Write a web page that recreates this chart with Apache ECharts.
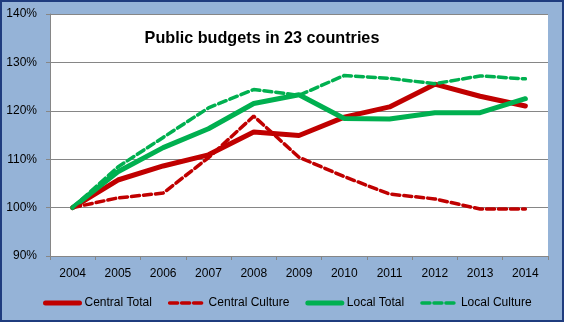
<!DOCTYPE html>
<html><head><meta charset="utf-8">
<script src="https://cdn.jsdelivr.net/npm/echarts@6/dist/echarts.min.js"></script>
<style>html,body{margin:0;padding:0;background:#95B3D7;}#c{width:564px;height:322px;}</style>
</head><body><div id="c"></div>
<script>
const years = ['2004','2005','2006','2007','2008','2009','2010','2011','2012','2013','2014'];
const centralTotal   = [100, 105.7, 108.6, 110.9, 115.6, 114.9, 118.7, 120.8, 125.5, 123.0, 121.0];
const centralCulture = [100, 102.0, 103.0, 110.3, 118.9, 110.4, 106.4, 102.8, 101.8, 99.7, 99.7];
const localTotal     = [100, 107.4, 112.4, 116.3, 121.5, 123.3, 118.4, 118.3, 119.6, 119.6, 122.5];
const localCulture   = [100, 108.4, 114.5, 120.6, 124.4, 123.2, 127.3, 126.7, 125.6, 127.2, 126.6];
const yTicks = [90, 100, 110, 120, 130, 140];
const seriesNames = ['Central Total', 'Central Culture', 'Local Total', 'Local Culture'];
const titleText = 'Public budgets in 23 countries';

const RED = '#C00000', GREEN = '#00B050';
const font = '"Liberation Sans", Arial, sans-serif';
const chart = echarts.init(document.getElementById('c'), null, {renderer: 'canvas'});
const dash = [8, 4];
function mk(name, data, color, dashed, width) {
  return {
    name: name, type: 'line', data: data, symbol: 'none', smooth: false,
    lineStyle: {color: color, width: width, type: dashed ? dash : 'solid', cap: 'round'},
    itemStyle: {color: color}, z: dashed ? 3 : 2
  };
}
const styles = [
  {c: RED, d: false, w: 5}, {c: RED, d: true, w: 3.5},
  {c: GREEN, d: false, w: 5}, {c: GREEN, d: true, w: 3.5}
];
chart.setOption({
  backgroundColor: '#95B3D7',
  animation: false,
  title: {
    text: titleText, left: 257, top: 26, textAlign: 'center',
    textStyle: {fontFamily: font, fontWeight: 'bold', fontSize: 16.2, color: '#000'}
  },
  grid: {left: 50, right: 16, top: 14, bottom: 66, show: true, backgroundColor: '#FFFFFF', borderWidth: 0},
  xAxis: {
    type: 'category', data: years, boundaryGap: true,
    axisLine: {lineStyle: {color: '#868686', width: 1}},
    axisTick: {show: true, length: 4, inside: false, lineStyle: {color: '#868686'}},
    axisLabel: {fontFamily: font, fontSize: 12, color: '#000', margin: 12}
  },
  yAxis: {
    type: 'value', min: yTicks[0], max: yTicks[yTicks.length - 1], interval: 10,
    axisLine: {show: true, lineStyle: {color: '#868686'}},
    axisTick: {show: true, length: 4, lineStyle: {color: '#868686'}},
    splitLine: {lineStyle: {color: '#868686', width: 1}},
    axisLabel: {fontFamily: font, fontSize: 12, color: '#000', margin: 13, formatter: v => v + '%'}
  },
  legend: {
    data: seriesNames.map((n, i) => ({
      name: n,
      itemStyle: {color: 'rgba(0,0,0,0)', borderColor: 'rgba(0,0,0,0)', borderWidth: 0},
      lineStyle: {color: styles[i].c, width: styles[i].w, type: styles[i].d ? dash : 'solid', cap: 'round'}
    })),
    left: 43, top: 297, padding: 0, itemGap: 16, itemWidth: 34, itemHeight: 12,
    textStyle: {fontFamily: font, fontSize: 12, color: '#000'}
  },
  series: seriesNames.map((n, i) => mk(n, [centralTotal, centralCulture, localTotal, localCulture][i], styles[i].c, styles[i].d, styles[i].w)),
  graphic: [{
    type: 'rect', z: 100, silent: true,
    shape: {x: 1, y: 1, width: 562, height: 320},
    style: {fill: 'none', stroke: '#1F3C7E', lineWidth: 2}
  }]
});
</script></body></html>
